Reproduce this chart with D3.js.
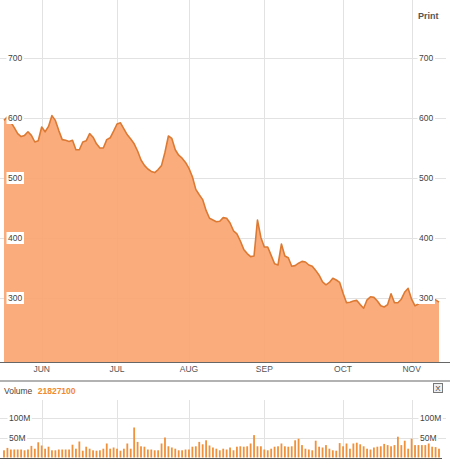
<!DOCTYPE html>
<html>
<head>
<meta charset="utf-8">
<title>Price</title>
<script src="https://cdn.jsdelivr.net/npm/d3@7"></script>
<style>
body { margin: 0; background: #fff; font-family: "Liberation Sans", Arial, sans-serif; }
.grid line { stroke: #e2e2e2; stroke-width: 1; shape-rendering: crispEdges; }
.lbl { font-size: 8.5px; fill: #444; }
.mon { font-size: 8.5px; fill: #555; }
</style>
</head>
<body>
<script>

// daily closes, one per trading day
var prices = [596,602,593,584,574,569,571,577,571,560,562,585,577,586,604,596,579,564,563,561,
  563,547,547,560,562,574,568,557,550,550,564,567,578,590,592,582,572,565,557,545,
  530,521,515,511,509,514,521,543,570,566,547,538,533,526,516,502,481,472,464,446,
  433,430,427,428,434,433,425,412,407,395,381,374,369,370,430,401,385,385,371,357,
  355,390,370,367,353,354,358,361,360,355,353,346,338,327,322,326,333,330,326,308,
  292,293,295,296,289,283,297,302,301,295,287,285,289,307,292,292,298,310,316,298,
  287,290,296,299,300,298,297,293];

// daily volume, millions
var volumes = [18,24,20,20,20,20,18,20,29,22,38,30,22,27,18,18,20,20,20,20,
  32,22,40,17,27,22,18,17,18,22,35,22,25,22,17,22,35,22,75,39,
  28,27,20,20,18,18,35,50,28,25,22,18,18,20,20,27,28,39,33,43,
  30,25,22,18,22,20,25,18,27,28,27,28,35,56,28,28,20,18,22,27,
  28,35,28,27,28,43,47,31,22,20,18,42,27,25,31,22,18,17,36,28,
  35,22,35,37,33,28,22,20,25,27,28,34,31,28,31,52,31,42,22,47,
  31,31,31,31,39,27,26,22];

var priceTicks = [300, 400, 500, 600, 700];
var volTicks = [50, 100];
var months = ["JUN", "JUL", "AUG", "SEP", "OCT", "NOV"];
var monthStart = [11, 33, 54, 76, 99, 119];
var lastVolume = "21827100";

var W = 450, H = 465;
var plotTop = 0, plotBottom = 362;
var volTop = 400, volBottom = 458;

var svg = d3.select("body").append("svg")
  .attr("width", W)
  .attr("height", H);

var x = d3.scaleLinear()
  .domain([0, prices.length - 1])
  .range([4, 439]);

var y = d3.scaleLinear()
  .domain([300, 700])
  .range([298, 58]);

var yv = d3.scaleLinear()
  .domain([0, 100])
  .range([457.5, 417.5]);

// price grid
var g1 = svg.append("g").attr("class", "grid");
g1.selectAll(".h").data(priceTicks).enter().append("line")
  .attr("x1", 0).attr("x2", 446)
  .attr("y1", function(d) { return Math.round(y(d)) + 0.5; })
  .attr("y2", function(d) { return Math.round(y(d)) + 0.5; });
g1.selectAll(".v").data(monthStart).enter().append("line")
  .attr("x1", function(d) { return Math.round(x(d)) + 0.5; })
  .attr("x2", function(d) { return Math.round(x(d)) + 0.5; })
  .attr("y1", plotTop).attr("y2", plotBottom);

var area = d3.area()
  .x(function(d, i) { return x(i); })
  .y0(plotBottom)
  .y1(function(d) { return y(d); });

var line = d3.line()
  .x(function(d, i) { return x(i); })
  .y(function(d) { return y(d); });

svg.append("path")
  .datum(prices)
  .attr("d", area)
  .attr("fill", "#fba673")
  .attr("fill-opacity", 0.93);

svg.append("path")
  .datum(prices)
  .attr("d", line)
  .attr("fill", "none")
  .attr("stroke", "#dc7a33")
  .attr("stroke-width", 1.6)
  .attr("stroke-linejoin", "round");

// price labels, both sides
function boxLabel(gx, xpos, yy, txt) {
  var t = gx.append("text").attr("class", "lbl")
    .attr("x", xpos).attr("y", yy + 3).text(txt);
  var b = t.node().getBBox();
  gx.insert("rect", "text")
    .attr("x", b.x - 1.5).attr("y", b.y - 1)
    .attr("width", b.width + 3).attr("height", b.height + 2)
    .attr("fill", "#fff");
}
priceTicks.forEach(function(d) {
  var gl = svg.append("g");
  boxLabel(gl, 8, y(d), d);
  var gr = svg.append("g");
  boxLabel(gr, 419, y(d), d);
});

svg.append("text")
  .attr("x", 418).attr("y", 19)
  .attr("font-size", "9px").attr("font-weight", "bold")
  .attr("fill", "#555").text("Print");

// time axis
svg.append("line")
  .attr("x1", 0).attr("x2", W)
  .attr("y1", plotBottom + 0.5).attr("y2", plotBottom + 0.5)
  .attr("stroke", "#666");

svg.selectAll(".mon").data(months).enter().append("text")
  .attr("class", "mon")
  .attr("x", function(d, i) { return x(monthStart[i]); })
  .attr("y", 372)
  .attr("text-anchor", "middle")
  .text(function(d) { return d; });

svg.append("line")
  .attr("x1", 0).attr("x2", W)
  .attr("y1", 381).attr("y2", 381)
  .attr("stroke", "#999").attr("stroke-width", 1.5);

// volume header
var vh = svg.append("text").attr("x", 4).attr("y", 394).attr("font-size", "8.5px");
vh.append("tspan").attr("fill", "#444").text("Volume ");
vh.append("tspan").attr("fill", "#f08a32").attr("font-weight", "bold").attr("dx", 3).text(lastVolume);

svg.append("rect")
  .attr("x", 433.5).attr("y", 383.5).attr("width", 9).attr("height", 9)
  .attr("fill", "#eee").attr("stroke", "#777");
svg.append("text")
  .attr("x", 438).attr("y", 391).attr("text-anchor", "middle")
  .attr("font-size", "8px").attr("fill", "#444").text("X");

// volume grid
var g2 = svg.append("g").attr("class", "grid");
g2.selectAll(".h").data(volTicks).enter().append("line")
  .attr("x1", 0).attr("x2", 446)
  .attr("y1", function(d) { return Math.round(yv(d)) + 0.5; })
  .attr("y2", function(d) { return Math.round(yv(d)) + 0.5; });
g2.selectAll(".v").data(monthStart).enter().append("line")
  .attr("x1", function(d) { return Math.round(x(d)) + 0.5; })
  .attr("x2", function(d) { return Math.round(x(d)) + 0.5; })
  .attr("y1", volTop).attr("y2", volBottom);

svg.selectAll(".bar").data(volumes).enter().append("rect")
  .attr("x", function(d, i) { return x(i) - 0.9; })
  .attr("width", 1.8)
  .attr("y", function(d) { return yv(d); })
  .attr("height", function(d) { return yv(0) - yv(d); })
  .attr("fill", "#f0913c");

svg.append("line")
  .attr("x1", 0).attr("x2", 442)
  .attr("y1", volBottom + 0.5).attr("y2", volBottom + 0.5)
  .attr("stroke", "#555");

volTicks.forEach(function(d) {
  boxLabel(svg.append("g"), 9, yv(d), d + "M");
  boxLabel(svg.append("g"), 420, yv(d), d + "M");
});

</script>
</body>
</html>
